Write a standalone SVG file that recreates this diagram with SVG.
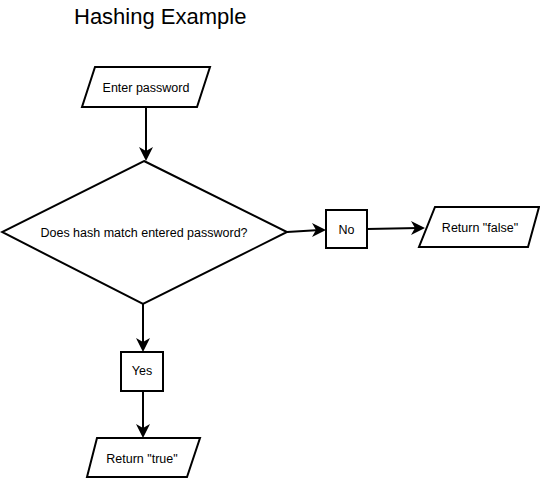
<svg xmlns="http://www.w3.org/2000/svg" width="540" height="479" viewBox="0 0 540 479">
<defs>
<style>
.shape{fill:#fff;stroke:#000;stroke-width:2}
.lbl{font-family:"Liberation Sans",Arial,sans-serif;font-size:12.5px;fill:#000;text-anchor:middle}
.title{font-family:"Liberation Sans",Arial,sans-serif;font-size:22px;fill:#000}
.conn{fill:none;stroke:#000;stroke-width:2}
.head{fill:#000}
</style>
</defs>
<rect width="540" height="479" fill="#fff"/>
<text class="title" x="74" y="24">Hashing Example</text>
<g id="connectors">
<path class="conn" d="M146,107 L146,154"/>
<path class="head" d="M139,147 L146,161 L153,147 L146,151 z"/>
<path class="conn" d="M287,232 L320,230"/>
<path class="head" d="M312,223 L326,230 L312,237 L316,230 z"/>
<path class="conn" d="M367,229 L419,228"/>
<path class="head" d="M411,221 L425,228 L411,235 L415,228 z"/>
<path class="conn" d="M143,304 L143,346"/>
<path class="head" d="M136,338 L143,352 L150,338 L143,342 z"/>
<path class="conn" d="M143,391 L143,432"/>
<path class="head" d="M136,424 L143,438 L150,424 L143,428 z"/>
</g>
<g id="enter-password">
<polygon class="shape" points="95,67 210,67 197,107 82,107"/>
<text class="lbl" x="146" y="92">Enter password</text>
</g>
<g id="decision">
<polygon class="shape" points="144,161 287,232 143,304 2,232"/>
<text class="lbl" x="144" y="237">Does hash match entered password?</text>
</g>
<g id="no">
<rect class="shape" x="326" y="210" width="41" height="38"/>
<text class="lbl" x="346.5" y="234">No</text>
</g>
<g id="return-false">
<polygon class="shape" points="435,207 539,207 528,247 419,247"/>
<text class="lbl" x="480" y="232">Return "false"</text>
</g>
<g id="yes">
<rect class="shape" x="121" y="352" width="42" height="39"/>
<text class="lbl" x="142" y="375">Yes</text>
</g>
<g id="return-true">
<polygon class="shape" points="97,438 200,438 187,477 87,477"/>
<text class="lbl" x="142" y="463">Return "true"</text>
</g>
</svg>
